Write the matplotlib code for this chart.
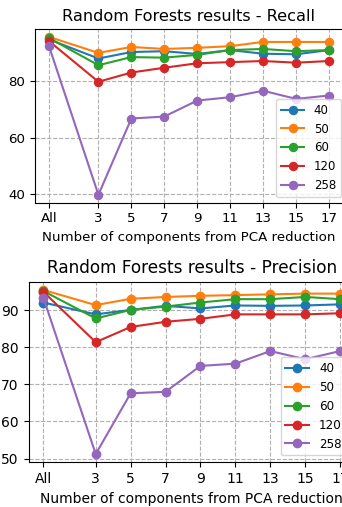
import matplotlib
matplotlib.use("Agg")
import matplotlib.pyplot as plt

x_positions = [0, 3, 5, 7, 9, 11, 13, 15, 17]
x_labels = ["All", "3", "5", "7", "9", "11", "13", "15", "17"]
series_names = ["40", "50", "60", "120", "258"]

recall_40 = [95.0, 88.2, 90.5, 90.8, 89.8, 91.2, 89.9, 89.7, 91.2]
recall_50 = [95.9, 90.2, 92.3, 91.6, 92.0, 92.6, 94.1, 94.1, 94.1]
recall_60 = [95.5, 85.8, 88.7, 88.5, 89.5, 91.2, 91.6, 90.8, 91.2]
recall_120 = [94.4, 79.9, 83.2, 84.9, 86.5, 86.9, 87.3, 86.7, 87.3]
recall_258 = [92.6, 39.6, 66.8, 67.5, 73.2, 74.4, 76.7, 73.8, 75.0]

precision_40 = [92.1, 88.9, 90.1, 91.2, 90.5, 91.3, 91.2, 91.3, 91.6]
precision_50 = [95.5, 91.4, 93.1, 93.6, 93.9, 94.1, 94.3, 94.5, 94.5]
precision_60 = [95.2, 87.8, 90.1, 91.0, 92.1, 93.0, 93.0, 93.6, 93.0]
precision_120 = [95.0, 81.4, 85.5, 86.9, 87.7, 88.9, 88.9, 88.9, 89.2]
precision_258 = [93.4, 51.2, 67.6, 68.0, 75.0, 75.6, 79.0, 76.8, 79.0]

recall = [recall_40, recall_50, recall_60, recall_120, recall_258]
precision = [precision_40, precision_50, precision_60, precision_120, precision_258]

fig = plt.figure(figsize=(3.42, 5.07), dpi=100)
ax1 = fig.add_axes([35 / 342, (507 - 202.7) / 507, 308 / 342, 173.7 / 507])
ax2 = fig.add_axes([28.5 / 342, (507 - 462.3) / 507, 326.5 / 342, 180.6 / 507])

settings = [
    (ax1, recall, "Random Forests results - Recall", 11.6, 9.6, 8.5, 5.8, (0.7825, 0.033)),
    (ax2, precision, "Random Forests results - Precision", 12.2, 10.0, 8.6, 6.0, (0.7725, 0.038)),
]
for ax, data, title, tsize, lsize, legsize, msize, anchor in settings:
    for name, vals in zip(series_names, data):
        ax.plot(x_positions, vals, marker="o", markersize=msize, label=name)
    ax.set_xticks(x_positions)
    ax.set_xticklabels(x_labels)
    ax.tick_params(labelsize=lsize)
    ax.set_xlabel("Number of components from PCA reduction", fontsize=lsize)
    ax.set_title(title, fontsize=tsize)
    ax.grid(True, linestyle="--")
    ax.legend(loc="lower left", bbox_to_anchor=anchor, borderaxespad=0, fontsize=legsize)

fig.savefig("out.png", dpi=100)
